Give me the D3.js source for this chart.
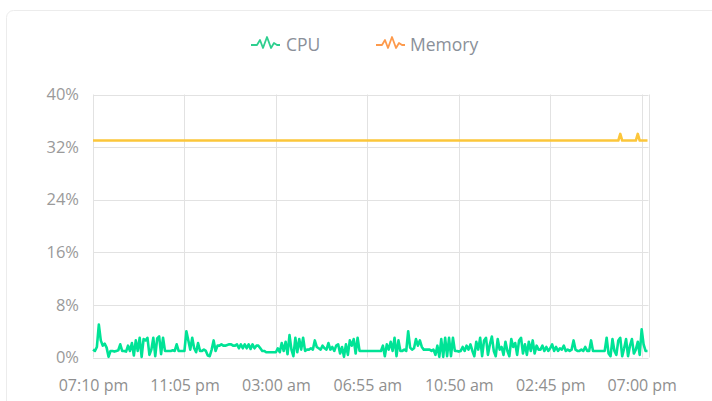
<!DOCTYPE html>
<html>
<head>
<meta charset="utf-8">
<script src="https://cdn.jsdelivr.net/npm/d3@7"></script>
<style>
  html, body { margin: 0; padding: 0; background: #fff; }
  body { width: 712px; height: 401px; overflow: hidden; }
  svg { display: block; font-family: "Open Sans", "Noto Sans", sans-serif; }
</style>
</head>
<body>
<svg id="chart" width="712" height="401"></svg>
<script>
// Time slots of the sampled usage (one point per sample)
const tickLabels = ["07:10 pm", "11:05 pm", "03:00 am", "06:55 am", "10:50 am", "02:45 pm", "07:00 pm"];
const tickIndex = [0, 47, 94, 141, 188, 235, 282];

// CPU usage, percent
const cpu = [
  1.2, 1.0, 1.6, 5.0, 2.6, 1.8, 2.1, 1.5, 0.1, 1.0, 1.0, 0.9, 1.0, 1.1, 2.0, 1.0, 1.0, 0.9, 1.8,
  1.0, 2.2, 0.3, 2.6, 1.0, 3.0, 0.1, 2.8, 2.6, 3.0, 0.4, 1.2, 3.0, 0.2, 2.9, 3.2, 0.5, 3.0,
  1.0, 1.0, 1.0, 1.0, 1.1, 1.0, 2.0, 1.0, 1.0, 1.0,
  1.0, 4.0, 2.6, 1.2, 3.0, 1.4, 0.8, 2.2, 1.0, 1.0, 1.2, 1.0, 0.3,
  0.2, 1.2, 2.6, 1.0, 1.8, 1.8, 2.0, 1.8, 1.8, 1.9, 2.0, 2.0, 1.8, 1.8, 2.0, 1.4, 2.0, 1.4, 2.0, 1.4,
  2.0, 1.3, 2.0, 1.4, 1.8, 1.8, 1.4, 1.0,
  1.0, 0.8, 0.8, 0.8, 0.8, 0.8,
  0.8, 1.4, 0.8, 2.2, 1.0, 2.4, 0.5, 3.4, 1.2, 0.2, 3.0, 0.8,
  2.8, 1.2, 3.0, 1.0, 1.2, 1.2, 1.4, 1.2, 2.6, 1.6, 1.4, 1.2, 1.8, 1.4, 1.2, 2.2, 1.2, 1.6, 1.0, 1.8,
  2.0, 0.6, 1.6, 0.1,
  2.0, 0.4, 2.6, 1.8, 2.8, 0.6, 3.0, 1.0,
  1.0, 1.0, 1.0, 1.0, 1.0, 1.0, 1.0, 1.0, 1.0, 1.0,
  1.0, 1.8, 0.2, 2.0, 1.2, 2.4, 1.0, 3.0, 0.2, 2.6, 1.0, 1.0, 1.2, 1.0,
  4.0, 1.5, 1.2, 1.4, 2.8, 1.8, 2.6, 1.6, 1.2, 1.2, 1.2, 1.2, 1.0, 1.2, 0.4, 1.8,
  0.1, 2.8, 0.1, 3.0, 0.2, 3.0, 0.2, 3.0,
  1.0, 1.0, 0.9, 1.0, 1.6, 1.0, 1.8, 1.2, 2.0, 1.0,
  0.2, 2.4, 1.2, 3.0, 0.2, 2.6, 3.0, 0.4, 2.0, 3.2, 1.0, 0.2, 2.8, 1.2, 1.6, 0.4, 2.4, 1.0, 0.2, 2.8,
  1.6, 2.2, 0.4, 2.6, 3.0, 0.6, 2.0, 0.4, 2.4, 1.0, 2.6, 0.6, 1.8, 1.2,
  1.2, 1.8, 1.0, 1.6, 1.0, 1.4, 2.0, 1.0, 1.6, 1.0, 1.4, 1.2, 1.8, 1.0, 1.2, 1.0, 1.2, 2.6, 1.2, 1.0,
  1.0, 1.2, 1.0, 1.6, 1.0, 1.0, 2.6, 1.0, 1.0, 1.0, 1.0, 1.0, 1.0,
  1.0, 3.0, 0.6, 0.2, 2.8, 1.0, 0.4, 2.6, 3.0, 0.2, 1.4, 2.8, 0.2, 1.8, 2.8, 0.6, 1.2, 2.4, 0.4, 4.3,
  2.0, 1.0, 1.0
];

// Memory usage, percent
const memory = [
  33, 33, 33, 33, 33, 33, 33, 33, 33, 33, 33, 33, 33, 33, 33, 33, 33, 33, 33, 33,
  33, 33, 33, 33, 33, 33, 33, 33, 33, 33, 33, 33, 33, 33, 33, 33, 33, 33, 33, 33,
  33, 33, 33, 33, 33, 33, 33, 33, 33, 33, 33, 33, 33, 33, 33, 33, 33, 33, 33, 33,
  33, 33, 33, 33, 33, 33, 33, 33, 33, 33, 33, 33, 33, 33, 33, 33, 33, 33, 33, 33,
  33, 33, 33, 33, 33, 33, 33, 33, 33, 33, 33, 33, 33, 33, 33, 33, 33, 33, 33, 33,
  33, 33, 33, 33, 33, 33, 33, 33, 33, 33, 33, 33, 33, 33, 33, 33, 33, 33, 33, 33,
  33, 33, 33, 33, 33, 33, 33, 33, 33, 33, 33, 33, 33, 33, 33, 33, 33, 33, 33, 33,
  33, 33, 33, 33, 33, 33, 33, 33, 33, 33, 33, 33, 33, 33, 33, 33, 33, 33, 33, 33,
  33, 33, 33, 33, 33, 33, 33, 33, 33, 33, 33, 33, 33, 33, 33, 33, 33, 33, 33, 33,
  33, 33, 33, 33, 33, 33, 33, 33, 33, 33, 33, 33, 33, 33, 33, 33, 33, 33, 33, 33,
  33, 33, 33, 33, 33, 33, 33, 33, 33, 33, 33, 33, 33, 33, 33, 33, 33, 33, 33, 33,
  33, 33, 33, 33, 33, 33, 33, 33, 33, 33, 33, 33, 33, 33, 33, 33, 33, 33, 33, 33,
  33, 33, 33, 33, 33, 33, 33, 33, 33, 33, 33, 33, 33, 33, 33, 33, 33, 33, 33, 33,
  33, 33, 33, 33, 33, 33, 33, 33, 33, 33, 33, 34, 33, 33, 33, 33, 33, 33, 33, 33,
  34, 33, 33, 33, 33, 33
];

const yTicks = [0, 8, 16, 24, 32, 40];

const series = [
  { name: "CPU", values: cpu, line: "#00e396", icon: "#2fcf8f" },
  { name: "Memory", values: memory, line: "#fcc63a", icon: "#fd9a4c" }
];

const svg = d3.select("#chart");

// card background
svg.append("rect")
  .attr("x", 6.5).attr("y", 10.5)
  .attr("width", 740).attr("height", 420)
  .attr("rx", 7)
  .attr("fill", "#fff")
  .attr("stroke", "#ececec");

const plot = { left: 93, right: 647.5, edge: 648.5, top: 94.5, bottom: 357.5 };

const x = d3.scaleLinear().domain([0, cpu.length - 1]).range([plot.left, plot.right]);
const y = d3.scaleLinear().domain([0, 40]).range([plot.bottom, plot.top]);

const grid = svg.append("g");
// horizontal grid lines
grid.selectAll("line.h").data(yTicks).join("line")
  .attr("class", "h")
  .attr("x1", plot.left).attr("x2", plot.edge)
  .attr("y1", d => Math.round(y(d)) + 0.5).attr("y2", d => Math.round(y(d)) + 0.5)
  .attr("stroke", "#e2e2e2");
// vertical grid lines at labelled slots, plus the right edge
grid.selectAll("line.v").data(tickIndex.map(i => x(i)).concat([plot.edge])).join("line")
  .attr("class", "v")
  .attr("x1", d => Math.round(d) + 0.5).attr("x2", d => Math.round(d) + 0.5)
  .attr("y1", plot.top).attr("y2", plot.bottom)
  .attr("stroke", "#e2e2e2");

// y axis labels
const yAxis = d3.axisLeft(y).tickValues(yTicks).tickFormat(d => d + "%").tickSize(0).tickPadding(14);
const gy = svg.append("g").attr("transform", `translate(${plot.left},0)`).call(yAxis);
gy.select(".domain").remove();
gy.selectAll("text").attr("fill", "#9a9a9a").attr("font-size", 16.5).attr("font-family", "\"Open Sans\", sans-serif");

// x axis labels
const xAxis = d3.axisBottom(x).tickValues(tickIndex)
  .tickFormat((d, i) => tickLabels[i]).tickSize(0).tickPadding(22);
const gx = svg.append("g").attr("transform", `translate(0,${plot.bottom})`).call(xAxis);
gx.select(".domain").remove();
gx.selectAll("text").attr("fill", "#8f8f8f").attr("font-size", 16).attr("font-family", "\"Open Sans\", sans-serif");

// series lines
const line = d3.line().x((d, i) => x(i)).y(d => y(d));
svg.selectAll("path.series").data(series.slice().reverse()).join("path")
  .attr("class", "series")
  .attr("d", d => line(d.values))
  .attr("fill", "none")
  .attr("stroke", d => d.line)
  .attr("stroke-width", 2.6)
  .attr("stroke-linejoin", "round");

// legend
const legendPos = [{ x: 251, tx: 286 }, { x: 376, tx: 410 }];
const iconPts = [[0, 8], [6, 8], [9, 3], [12, 11], [16, 0], [20, 11], [23, 6], [26, 8], [29, 8]];
const legend = svg.append("g");
series.forEach((s, i) => {
  const g = legend.append("g").attr("transform", `translate(${legendPos[i].x},37)`);
  g.append("path")
    .attr("d", d3.line()(iconPts))
    .attr("fill", "none")
    .attr("stroke", s.icon)
    .attr("stroke-width", 1.8)
    .attr("stroke-linejoin", "round");
  legend.append("text")
    .attr("x", legendPos[i].tx).attr("y", 50.5)
    .attr("fill", "#8a9099")
    .attr("font-size", 17.5)
    .text(s.name);
});
</script>
</body>
</html>
